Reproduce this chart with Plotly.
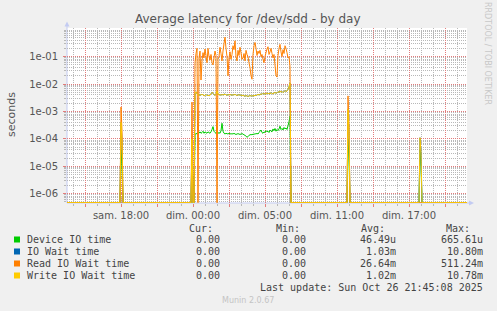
import plotly.graph_objects as go
import pandas as pd

# ---------------- data (5-minute samples, UTC) ----------------
START = "2025-10-25 11:30"
END = "2025-10-26 20:50"

BLOCK_START = "2025-10-25 22:10"   # first sample of the busy period

READ_BLOCK = [0.06, 0.13, 0.2, 0, 0.09, 0.16, 0.014, 0.07, 0.14, 0.09, 0.19, 0.11,
              0.06, 0.2, 0.1, 0.075, 0.12, 0.06, 0.05, 0.09, 0.16, 0.11, 0, 0.08,
              0.1, 0.22, 0.13, 0.07, 0.16, 0.3, 0.511, 0.2, 0.1, 0.02, 0.09, 0.15,
              0.08, 0.12, 0.25, 0.18, 0.38, 0.1, 0.07, 0.17, 0.11, 0.22, 0.14, 0.08,
              0.09, 0.13, 0.07, 0.17, 0.12, 0.1, 0.06, 0.04, 0.02, 0.015, 0.12, 0.25,
              0.33, 0.2, 0.11, 0.16, 0.13, 0.17, 0.1, 0.12, 0.08, 0.06, 0.1, 0.14,
              0.19, 0.23, 0.12, 0.15, 0.2, 0.13, 0.09, 0.12, 0.05, 0.02, 0.018, 0.11,
              0.2, 0.28, 0.15, 0.1, 0.18, 0.13, 0.25, 0.2, 0.14, 0.09, 0.1, 0.043]

WRITE_BLOCK = [4.6e-3, 5.2e-3, 4.4e-3, 4.0e-3, 3.8e-3, 4.1e-3, 3.9e-3, 4.3e-3, 4.0e-3, 3.7e-3,
               3.9e-3, 4.2e-3, 3.8e-3, 4.0e-3, 3.7e-3, 3.9e-3, 4.4e-3, 5.0e-3, 4.6e-3, 4.1e-3,
               3.9e-3, 4.2e-3, 5.6e-3, 4.3e-3, 4.0e-3, 4.1e-3, 3.9e-3, 4.2e-3, 4.0e-3, 4.1e-3,
               4.3e-3, 4.0e-3, 3.9e-3, 4.1e-3, 4.0e-3, 4.2e-3, 4.0e-3, 3.9e-3, 4.1e-3, 4.0e-3,
               4.2e-3, 4.0e-3, 3.8e-3, 4.0e-3, 4.1e-3, 3.9e-3, 4.0e-3, 3.8e-3, 3.9e-3, 3.7e-3,
               3.6e-3, 3.8e-3, 3.7e-3, 3.5e-3, 3.7e-3, 3.8e-3, 3.7e-3, 3.6e-3, 3.8e-3, 3.7e-3,
               3.9e-3, 3.8e-3, 4.0e-3, 4.2e-3, 4.0e-3, 4.1e-3, 4.4e-3, 4.2e-3, 4.6e-3, 4.3e-3,
               4.5e-3, 4.2e-3, 4.8e-3, 4.4e-3, 4.6e-3, 4.3e-3, 4.9e-3, 4.5e-3, 4.4e-3, 4.7e-3,
               5.0e-3, 4.6e-3, 4.8e-3, 5.3e-3, 4.9e-3, 5.6e-3, 5.0e-3, 5.4e-3, 4.9e-3, 5.2e-3,
               5.8e-3, 5.3e-3, 5.6e-3, 6.4e-3, 8.0e-3, 1.078e-2]

IOWAIT_BLOCK = [4.6e-3, 5.2e-3, 4.4e-3, 4.0e-3, 3.8e-3, 4.1e-3, 3.9e-3, 4.3e-3, 4.0e-3, 3.7e-3,
                3.9e-3, 4.2e-3, 3.8e-3, 4.0e-3, 3.7e-3, 3.9e-3, 4.4e-3, 5.0e-3, 4.6e-3, 4.1e-3,
                3.9e-3, 4.2e-3, 5.6e-3, 4.3e-3, 4.0e-3, 4.1e-3, 3.9e-3, 4.2e-3, 4.0e-3, 4.1e-3,
                4.4e-3, 4.0e-3, 3.9e-3, 4.1e-3, 4.0e-3, 4.2e-3, 4.0e-3, 3.9e-3, 4.1e-3, 4.0e-3,
                4.3e-3, 4.0e-3, 3.8e-3, 4.0e-3, 4.1e-3, 3.9e-3, 4.0e-3, 3.8e-3, 3.9e-3, 3.7e-3,
                3.6e-3, 3.8e-3, 3.7e-3, 3.5e-3, 3.7e-3, 3.8e-3, 3.7e-3, 3.6e-3, 3.8e-3, 3.7e-3,
                3.9e-3, 3.8e-3, 4.0e-3, 4.2e-3, 4.0e-3, 4.1e-3, 4.4e-3, 4.2e-3, 4.6e-3, 4.3e-3,
                4.5e-3, 4.2e-3, 4.8e-3, 4.4e-3, 4.6e-3, 4.3e-3, 4.9e-3, 4.5e-3, 4.4e-3, 4.7e-3,
                5.0e-3, 4.6e-3, 4.8e-3, 5.3e-3, 4.9e-3, 5.6e-3, 5.0e-3, 5.4e-3, 4.9e-3, 5.2e-3,
                5.8e-3, 5.3e-3, 5.6e-3, 6.4e-3, 8.0e-3, 1.080e-2]

DEVICE_BLOCK = [1.4e-4, 1.6e-4, 1.5e-4, 1.7e-4, 1.6e-4, 1.8e-4, 1.6e-4, 1.7e-4, 1.9e-4, 1.6e-4,
                1.8e-4, 1.7e-4, 1.6e-4, 1.8e-4, 1.7e-4, 1.6e-4, 1.8e-4, 2.2e-4, 2.8e-4, 1.9e-4,
                1.7e-4, 1.6e-4, 1.8e-4, 1.6e-4, 1.7e-4, 1.6e-4, 2.0e-4, 3.7e-4, 1.9e-4, 1.6e-4,
                1.5e-4, 1.6e-4, 1.55e-4, 1.5e-4, 1.6e-4, 1.55e-4, 1.5e-4, 1.55e-4, 1.5e-4, 1.6e-4,
                1.5e-4, 1.45e-4, 1.5e-4, 1.55e-4, 1.5e-4, 1.45e-4, 1.5e-4, 1.55e-4, 1.5e-4, 1.4e-4,
                1.35e-4, 1.25e-4, 1.15e-4, 1.2e-4, 1.35e-4, 1.4e-4, 1.45e-4, 1.4e-4, 1.5e-4, 1.45e-4,
                1.55e-4, 1.5e-4, 1.6e-4, 1.5e-4, 1.7e-4, 1.9e-4, 2.1e-4, 1.7e-4, 1.6e-4, 1.8e-4,
                1.7e-4, 2.0e-4, 1.8e-4, 1.9e-4, 1.7e-4, 2.1e-4, 1.9e-4, 1.8e-4, 2.3e-4, 2.0e-4,
                2.4e-4, 1.9e-4, 2.2e-4, 2.0e-4, 2.3e-4, 2.9e-4, 2.2e-4, 2.4e-4, 2.1e-4, 2.6e-4,
                2.3e-4, 2.5e-4, 2.2e-4, 3.0e-4, 4.2e-4, 6.656e-4]

SPIKE_TIMES = ["2025-10-25 16:00", "2025-10-25 16:05", "2025-10-25 21:55",
               "2025-10-26 10:55", "2025-10-26 11:00", "2025-10-26 16:55", "2025-10-26 17:00"]
SPIKE_DEVICE = [4e-5, 1e-5, 3e-5, 1e-4, 2e-5, 4e-5, 1e-5]
SPIKE_IOWAIT = [4e-4, 8e-5, 1e-4, 1.2e-3, 1.5e-4, 1.1e-4, 3e-5]
SPIKE_READ = [1.45e-3, 2e-4, 2.2e-3, 3.7e-3, 3e-4, 0, 0]
SPIKE_WRITE = [4e-4, 8e-5, 1e-4, 1.2e-3, 1.5e-4, 1.1e-4, 3e-5]

SERIES_NAMES = ["Device IO time", "IO Wait time", "Read IO Wait time", "Write IO Wait time"]
SERIES_COLORS = ["#00cc00", "#0066b3", "#ff8000", "#ffcc00"]
CUR = ["0.00", "0.00", "0.00", "0.00"]
MIN = ["0.00", "0.00", "0.00", "0.00"]
AVG = ["46.49u", "1.03m", "26.64m", "1.02m"]
MAX = ["665.61u", "10.80m", "511.24m", "10.78m"]

X_TICK_TIMES = ["2025-10-25 13:00", "2025-10-25 16:00", "2025-10-25 19:00", "2025-10-25 22:00",
                "2025-10-26 01:00", "2025-10-26 04:00", "2025-10-26 07:00", "2025-10-26 10:00",
                "2025-10-26 13:00", "2025-10-26 16:00", "2025-10-26 19:00"]
X_TICK_LABELS = ["", "sam. 18:00", "", "dim. 00:00", "", "dim. 05:00", "", "dim. 11:00",
                 "", "dim. 17:00", ""]
Y_TICK_VALUES = [1e-6, 1e-5, 1e-4, 1e-3, 1e-2, 1e-1]
Y_TICK_LABELS = ["1e-06", "1e-05", "1e-04", "1e-03", "1e-02", "1e-01"]
Y_RANGE = [-6.34, 0.045]

# ---------------- build series ----------------
t0 = pd.Timestamp(START)
step = pd.Timedelta(minutes=5)
times = pd.date_range(START, END, freq="5min")
n = len(times)
b0 = int((pd.Timestamp(BLOCK_START) - t0) / step)

def build(block, spikes):
    vals = [0.0] * n
    for k, v in enumerate(block):
        vals[b0 + k] = v
    for ts, v in zip(SPIKE_TIMES, spikes):
        vals[int((pd.Timestamp(ts) - t0) / step)] = v
    floor = 10 ** (Y_RANGE[0] + 0.012)
    return [v if v > 0 else floor for v in vals]

series = [build(DEVICE_BLOCK, SPIKE_DEVICE), build(IOWAIT_BLOCK, SPIKE_IOWAIT),
          build(READ_BLOCK, SPIKE_READ), build(WRITE_BLOCK, SPIKE_WRITE)]

fig = go.Figure()
for vals, col in zip(series, SERIES_COLORS):
    fig.add_trace(go.Scatter(x=times, y=vals, mode="lines",
                             line=dict(color=col, width=1, simplify=False),
                             hoverinfo="skip", showlegend=False))

# ---------------- layout ----------------
L, R, T, B = 67, 467, 28, 203
W, H = 497, 311
def px(x):
    return (x - L) / (R - L)
def py(y):
    return (B - y) / (B - T)

MAJOR = "#e27c7c"
MINOR = "#b8b8b8"
AXIS = "#c3cbf2"
TXT = "#555555"
FONT = "DejaVu Sans"
MONO = "DejaVu Sans Mono"
DASH = "1px,1px"

minor_y = [k * 10.0 ** e for e in range(-7, 1) for k in range(2, 10)]

fig.update_layout(
    width=W, height=H,
    margin=dict(l=L, r=W - R, t=T, b=H - B, pad=0),
    paper_bgcolor="#f0f0f0", plot_bgcolor="#ffffff",
    showlegend=False,
    xaxis=dict(type="date", range=[START, END], tickmode="array",
               tickvals=X_TICK_TIMES, ticktext=X_TICK_LABELS,
               showgrid=True, gridcolor=MAJOR, gridwidth=1, griddash=DASH,
               ticks="outside", ticklen=3, tickcolor=MAJOR, tickwidth=1,
               tickfont=dict(family=FONT, size=10, color=TXT),
               zeroline=False, showline=False,
               minor=dict(dtick=3600000, tick0="2025-10-25 12:00", showgrid=True,
                          gridcolor=MINOR, griddash=DASH, gridwidth=1,
                          ticks="outside", ticklen=2, tickcolor=MINOR)),
    yaxis=dict(type="log", range=Y_RANGE, tickmode="array",
               tickvals=Y_TICK_VALUES, ticktext=Y_TICK_LABELS,
               showgrid=True, gridcolor=MAJOR, gridwidth=1, griddash=DASH,
               ticks="outside", ticklen=3, tickcolor=MAJOR, tickwidth=1,
               ticklabelstandoff=3,
               tickfont=dict(family=FONT, size=10, color=TXT),
               zeroline=False, showline=False,
               minor=dict(tickmode="array", tickvals=minor_y, showgrid=True,
                          gridcolor=MINOR, griddash=DASH, gridwidth=1,
                          ticks="outside", ticklen=2, tickcolor=MINOR)),
)

shapes = []
# axis lines + arrows
shapes.append(dict(type="line", xref="paper", yref="paper", x0=px(L), x1=px(L),
                   y0=py(B), y1=py(25), line=dict(color=AXIS, width=1), layer="between"))
shapes.append(dict(type="line", xref="paper", yref="paper", x0=px(L), x1=px(470),
                   y0=py(B), y1=py(B), line=dict(color=AXIS, width=1), layer="between"))
shapes.append(dict(type="path", xref="paper", yref="paper",
                   path=f"M {px(64.5)} {py(26.5)} L {px(67)} {py(21.5)} L {px(69.5)} {py(26.5)} Z",
                   fillcolor=AXIS, line=dict(color=AXIS, width=0), layer="above"))
shapes.append(dict(type="path", xref="paper", yref="paper",
                   path=f"M {px(469)} {py(200.5)} L {px(474)} {py(B)} L {px(469)} {py(205.5)} Z",
                   fillcolor=AXIS, line=dict(color=AXIS, width=0), layer="above"))

annotations = []
def text(x, y, s, size=10, family=FONT, color=TXT, xanchor="left", angle=0):
    annotations.append(dict(xref="paper", yref="paper", x=px(x), y=py(y), text=s,
                            showarrow=False, xanchor=xanchor, yanchor="middle",
                            textangle=angle, borderpad=0,
                            font=dict(family=family, size=size, color=color)))

text(248, 18.5, "Average latency for /dev/sdd - by day", size=12, xanchor="center")
text(11.5, 114.5, "seconds", size=11, xanchor="center", angle=-90)
text(488, 53, "RRDTOOL / TOBI OETIKER", size=8, color="#c8c8c8", xanchor="center", angle=90)

LEG = "#444444"
text(214, 228, "Cur:", family=MONO, color=LEG, xanchor="right")
text(300.5, 228, "Min:", family=MONO, color=LEG, xanchor="right")
text(385.5, 228, "Avg:", family=MONO, color=LEG, xanchor="right")
text(470.5, 228, "Max:", family=MONO, color=LEG, xanchor="right")
for i, name in enumerate(SERIES_NAMES):
    y = 239.5 + 12 * i
    shapes.append(dict(type="rect", xref="paper", yref="paper",
                       x0=px(14), x1=px(20), y0=py(y - 3), y1=py(y + 3),
                       fillcolor=SERIES_COLORS[i], line=dict(width=0), layer="above"))
    text(25.5, y, name, family=MONO, color=LEG)
    text(220.5, y, CUR[i], family=MONO, color=LEG, xanchor="right")
    text(306.5, y, MIN[i], family=MONO, color=LEG, xanchor="right")
    text(397, y, AVG[i], family=MONO, color=LEG, xanchor="right")
    text(484, y, MAX[i], family=MONO, color=LEG, xanchor="right")
text(484, 287.5, "Last update: Sun Oct 26 21:45:08 2025", family=MONO, color=LEG, xanchor="right")
text(248, 300, "Munin 2.0.67", size=8, color="#c4c4c4", xanchor="center")

fig.update_layout(shapes=shapes, annotations=annotations)
fig.write_html("out.html")
